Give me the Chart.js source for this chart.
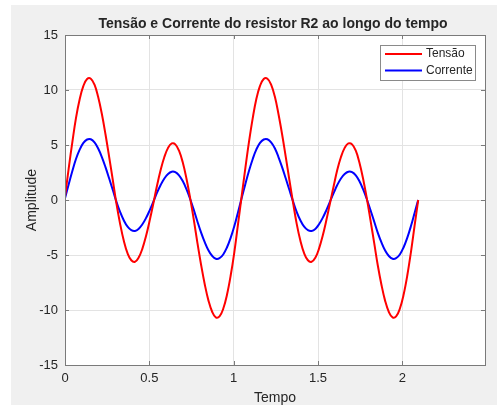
<!DOCTYPE html>
<html>
<head>
<meta charset="utf-8">
<script src="https://cdn.jsdelivr.net/npm/chart.js@4.4.1/dist/chart.umd.min.js"></script>
<style>
  html, body { margin: 0; padding: 0; background: #fff; }
  #figura { position: absolute; left: 11px; top: 5px; width: 486px; height: 400px; background: #f0f0f0; }
</style>
</head>
<body>
<div id="figura"><canvas id="grafico" width="486" height="400"></canvas></div>
<script>
// tempo (s)
const tempo = [
  0.000, 0.022, 0.044, 0.065, 0.087, 0.109, 0.131, 0.153, 0.175, 0.196,
  0.218, 0.240, 0.262, 0.284, 0.305, 0.327, 0.349, 0.371, 0.393, 0.415,
  0.436, 0.458, 0.480, 0.502, 0.524, 0.545, 0.567, 0.589, 0.611, 0.633,
  0.654, 0.676, 0.698, 0.720, 0.742, 0.764, 0.785, 0.807, 0.829, 0.851,
  0.873, 0.894, 0.916, 0.938, 0.960, 0.982, 1.004, 1.025, 1.047, 1.069,
  1.091, 1.113, 1.134, 1.156, 1.178, 1.200, 1.222, 1.244, 1.265, 1.287,
  1.309, 1.331, 1.353, 1.374, 1.396, 1.418, 1.440, 1.462, 1.484, 1.505,
  1.527, 1.549, 1.571, 1.593, 1.614, 1.636, 1.658, 1.680, 1.702, 1.724,
  1.745, 1.767, 1.789, 1.811, 1.833, 1.854, 1.876, 1.898, 1.920, 1.942,
  1.963, 1.985, 2.007, 2.029, 2.051, 2.073, 2.094
];
// tensão no R2
const tensao = [
  0.30, 2.88, 5.31, 7.45, 9.16, 10.37, 11.00, 11.03, 10.48, 9.40,
  7.86, 5.98, 3.90, 1.75, -0.33, -2.19, -3.73, -4.85, -5.48, -5.62,
  -5.26, -4.46, -3.30, -1.87, -0.30, 1.27, 2.72, 3.91, 4.74, 5.14,
  5.06, 4.48, 3.43, 1.96, 0.17, -1.83, -3.90, -5.91, -7.70, -9.17,
  -10.18, -10.67, -10.58, -9.89, -8.64, -6.89, -4.73, -2.29, 0.30, 2.88,
  5.31, 7.45, 9.16, 10.37, 11.00, 11.03, 10.48, 9.40, 7.86, 5.98,
  3.90, 1.75, -0.33, -2.19, -3.73, -4.85, -5.48, -5.62, -5.26, -4.46,
  -3.30, -1.87, -0.30, 1.27, 2.72, 3.91, 4.74, 5.14, 5.06, 4.48,
  3.43, 1.96, 0.17, -1.83, -3.90, -5.91, -7.70, -9.17, -10.18, -10.67,
  -10.58, -9.89, -8.64, -6.89, -4.73, -2.29, 0.00
];
// corrente no R2
const corrente = [
  0.15, 1.44, 2.66, 3.73, 4.58, 5.19, 5.50, 5.52, 5.24, 4.70,
  3.93, 2.99, 1.95, 0.88, -0.17, -1.10, -1.87, -2.43, -2.74, -2.81,
  -2.63, -2.23, -1.65, -0.94, -0.15, 0.64, 1.36, 1.96, 2.37, 2.57,
  2.53, 2.24, 1.72, 0.98, 0.09, -0.92, -1.95, -2.96, -3.85, -4.59,
  -5.09, -5.34, -5.29, -4.95, -4.32, -3.45, -2.37, -1.15, 0.15, 1.44,
  2.66, 3.73, 4.58, 5.19, 5.50, 5.52, 5.24, 4.70, 3.93, 2.99,
  1.95, 0.88, -0.17, -1.10, -1.87, -2.43, -2.74, -2.81, -2.63, -2.23,
  -1.65, -0.94, -0.15, 0.64, 1.36, 1.96, 2.37, 2.57, 2.53, 2.24,
  1.72, 0.98, 0.09, -0.92, -1.95, -2.96, -3.85, -4.59, -5.09, -5.34,
  -5.29, -4.95, -4.32, -3.45, -2.37, -1.15, 0.00
];
const ticksX = [0, 0.5, 1, 1.5, 2];
const ticksY = [-15, -10, -5, 0, 5, 10, 15];
const titulo = 'Tensão e Corrente do resistor R2 ao longo do tempo';

const fonte = '"Liberation Sans", Arial, Helvetica, sans-serif';
const corTexto = '#262626';
const corEixo = '#7a7a7a';

function pontos(valores) {
  return tempo.map((t, i) => ({ x: t, y: valores[i] }));
}

// caixa dos eixos no estilo do MATLAB, título e legenda dentro do gráfico
const eixosMatlab = {
  id: 'eixosMatlab',
  beforeDraw(chart) {
    const a = chart.chartArea;
    const ctx = chart.ctx;
    ctx.save();
    ctx.fillStyle = '#ffffff';
    ctx.fillRect(a.left, a.top, a.right - a.left, a.bottom - a.top);
    ctx.restore();
  },
  afterDraw(chart) {
    const a = chart.chartArea;
    const ctx = chart.ctx;
    const sx = chart.scales.x;
    const sy = chart.scales.y;
    ctx.save();
    ctx.strokeStyle = corEixo;
    ctx.lineWidth = 1;
    ctx.beginPath();
    ticksY.forEach((v) => {
      const y = Math.round(sy.getPixelForValue(v)) + 0.5;
      ctx.moveTo(a.left, y); ctx.lineTo(a.left + 4, y);
      ctx.moveTo(a.right, y); ctx.lineTo(a.right - 4, y);
    });
    ticksX.forEach((v) => {
      const x = Math.round(sx.getPixelForValue(v)) + 0.5;
      ctx.moveTo(x, a.bottom); ctx.lineTo(x, a.bottom - 4);
      ctx.moveTo(x, a.top); ctx.lineTo(x, a.top + 4);
    });
    ctx.stroke();
    ctx.strokeRect(Math.round(a.left) + 0.5, Math.round(a.top) + 0.5,
      Math.round(a.right - a.left), Math.round(a.bottom - a.top));

    // título centrado nos eixos
    ctx.fillStyle = corTexto;
    ctx.font = 'bold 14px ' + fonte;
    ctx.textAlign = 'center';
    ctx.textBaseline = 'alphabetic';
    ctx.fillText(titulo, (a.left + a.right) / 2 - 2, a.top - 7);

    // legenda
    const lx = a.right - 105, ly = a.top + 10, lw = 95, lh = 35;
    ctx.fillStyle = '#ffffff';
    ctx.fillRect(lx, ly, lw, lh);
    ctx.strokeStyle = '#8a8a8a';
    ctx.strokeRect(lx + 0.5, ly + 0.5, lw, lh);
    ctx.font = '12px ' + fonte;
    ctx.textAlign = 'left';
    ctx.textBaseline = 'middle';
    chart.data.datasets.forEach((ds, i) => {
      const y = ly + 9 + i * 16.5;
      ctx.strokeStyle = ds.borderColor;
      ctx.lineWidth = 2;
      ctx.beginPath();
      ctx.moveTo(lx + 5, y); ctx.lineTo(lx + 42, y);
      ctx.stroke();
      ctx.fillStyle = corTexto;
      ctx.fillText(ds.label, lx + 46, y);
    });
    ctx.restore();
  }
};

new Chart(document.getElementById('grafico'), {
  type: 'line',
  data: {
    datasets: [
      { label: 'Tensão', data: pontos(tensao), borderColor: '#ff0000', borderWidth: 2, pointRadius: 0, tension: 0.4, fill: false },
      { label: 'Corrente', data: pontos(corrente), borderColor: '#0000ff', borderWidth: 2, pointRadius: 0, tension: 0.4, fill: false }
    ]
  },
  options: {
    responsive: false,
    animation: false,
    events: [],
    layout: { padding: { left: 0, right: 12, top: 30, bottom: 0 } },
    plugins: {
      legend: { display: false },
      tooltip: { enabled: false },
      title: { display: false }
    },
    scales: {
      x: {
        type: 'linear',
        min: 0,
        max: 2.49,
        afterBuildTicks(scale) { scale.ticks = ticksX.map((v) => ({ value: v })); },
        afterFit(scale) { scale.height = 40; },
        grid: { color: '#e3e3e3', drawTicks: false },
        border: { display: false },
        ticks: {
          color: corTexto,
          font: { family: fonte, size: 13 },
          padding: 6,
          maxRotation: 0,
          callback: (v) => String(v)
        },
        title: { display: true, text: 'Tempo', color: corTexto, font: { family: fonte, size: 14 }, padding: { top: 0, bottom: -2 } }
      },
      y: {
        min: -15,
        max: 15,
        afterBuildTicks(scale) { scale.ticks = ticksY.map((v) => ({ value: v })); },
        afterFit(scale) { scale.width = 54; },
        grid: { color: '#e3e3e3', drawTicks: false },
        border: { display: false },
        ticks: { color: corTexto, font: { family: fonte, size: 13 }, padding: 7, callback: (v) => String(v) },
        title: { display: true, text: 'Amplitude', color: corTexto, font: { family: fonte, size: 14 }, padding: { top: 13, bottom: 0 } }
      }
    }
  },
  plugins: [eixosMatlab]
});
</script>
</body>
</html>
